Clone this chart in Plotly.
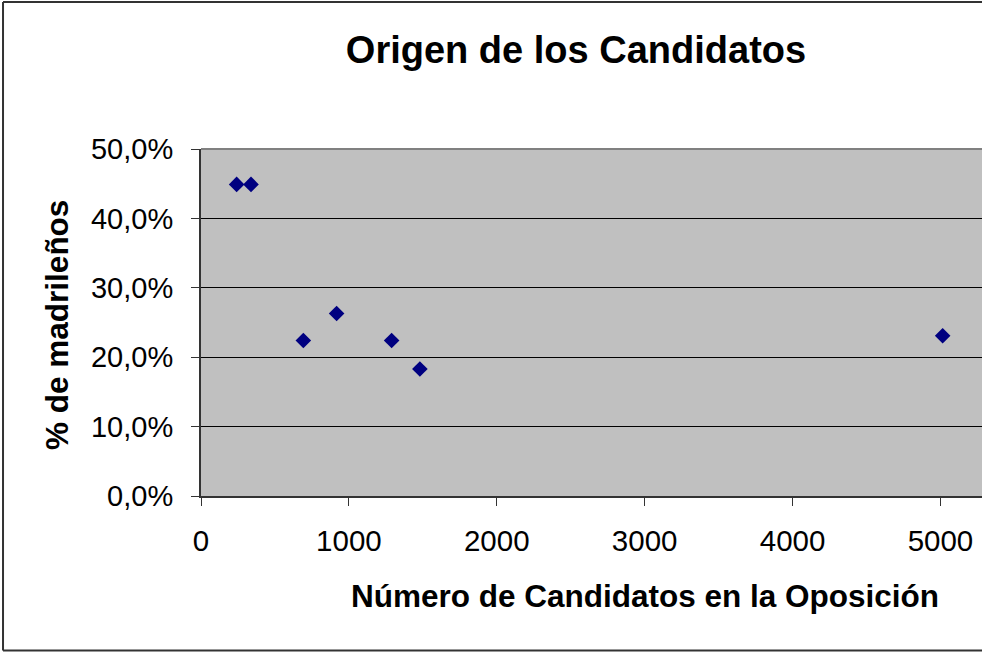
import plotly.graph_objects as go

# Número de candidatos en la oposición vs % de madrileños
candidatos = [241, 338, 692, 917, 1289, 1480, 5015]
pct_madrilenos = [0.449, 0.449, 0.224, 0.263, 0.224, 0.183, 0.231]
x_ticks = [0, 1000, 2000, 3000, 4000, 5000]
y_ticks = [0.0, 0.1, 0.2, 0.3, 0.4, 0.5]

FONT = "Liberation Sans, Arial, sans-serif"

fig = go.Figure()
fig.add_trace(
    go.Scatter(
        x=candidatos,
        y=pct_madrilenos,
        mode="markers",
        marker={"symbol": "diamond", "size": 12, "color": "#000080", "line": {"width": 0}},
        showlegend=False,
    )
)

# chart border (left, top, bottom; right edge is cut off)
border = {"color": "#333333", "width": 2}
for x0, y0, x1, y1 in ((-0.2535, -0.4455, -0.2535, 1.4235),
                       (-0.2535, 1.4235, 1.02, 1.4235),
                       (-0.2535, -0.4455, 1.02, -0.4455)):
    fig.add_shape(type="line", xref="paper", yref="paper", x0=x0, y0=y0, x1=x1, y1=y1,
                  line=border, layer="above")
# top edge of plot area
fig.add_shape(type="line", xref="paper", yref="paper", x0=0, y0=1, x1=1.02, y1=1,
              line={"color": "#808080", "width": 2})

fig.add_annotation(text="<b>Número de Candidatos en la Oposición</b>", xref="paper", yref="paper",
                   x=(644.5 - 201) / 781, y=(496.3 - 596) / 347.5, showarrow=False,
                   xanchor="center", yanchor="middle", font={"size": 31.5, "color": "black", "family": FONT})
fig.add_annotation(text="<b>% de madrileños</b>", xref="paper", yref="paper",
                   x=(57 - 201) / 781, y=(496.3 - 325) / 347.5, showarrow=False, textangle=-90,
                   xanchor="center", yanchor="middle", font={"size": 31.5, "color": "black", "family": FONT})

fig.update_layout(
    width=982,
    height=654,
    margin={"l": 201, "r": 0, "t": 149, "b": 158},
    paper_bgcolor="white",
    plot_bgcolor="#C0C0C0",
    separators=",.",
    font={"family": FONT, "color": "black"},
    title={
        "text": "<b>Origen de los Candidatos</b>",
        "x": 576 / 982,
        "xanchor": "center",
        "y": 1 - 50 / 654,
        "yanchor": "middle",
        "font": {"size": 38, "family": FONT, "color": "black"},
    },
    xaxis={
        "range": [0, 5281],
        "tickvals": x_ticks,
        "tickformat": "d",
        "showgrid": False,
        "zeroline": False,
        "showline": True,
        "linecolor": "#333333",
        "linewidth": 2,
        "ticks": "outside",
        "ticklen": 8,
        "tickcolor": "#333333",
        "tickfont": {"size": 29.5},
        "ticklabelstandoff": 10,
    },
    yaxis={
        "range": [0, 0.5],
        "tickvals": y_ticks,
        "tickformat": ".1%",
        "showgrid": True,
        "gridcolor": "black",
        "gridwidth": 1,
        "zeroline": False,
        "showline": True,
        "linecolor": "#333333",
        "linewidth": 2,
        "ticks": "outside",
        "ticklen": 8,
        "tickcolor": "#333333",
        "tickfont": {"size": 29},
        "ticklabelstandoff": 12,
    },
)

fig.write_html(
    "out.html",
    config={"displayModeBar": False},
    post_script="document.body.style.margin='0';document.body.style.overflow='hidden';",
)
